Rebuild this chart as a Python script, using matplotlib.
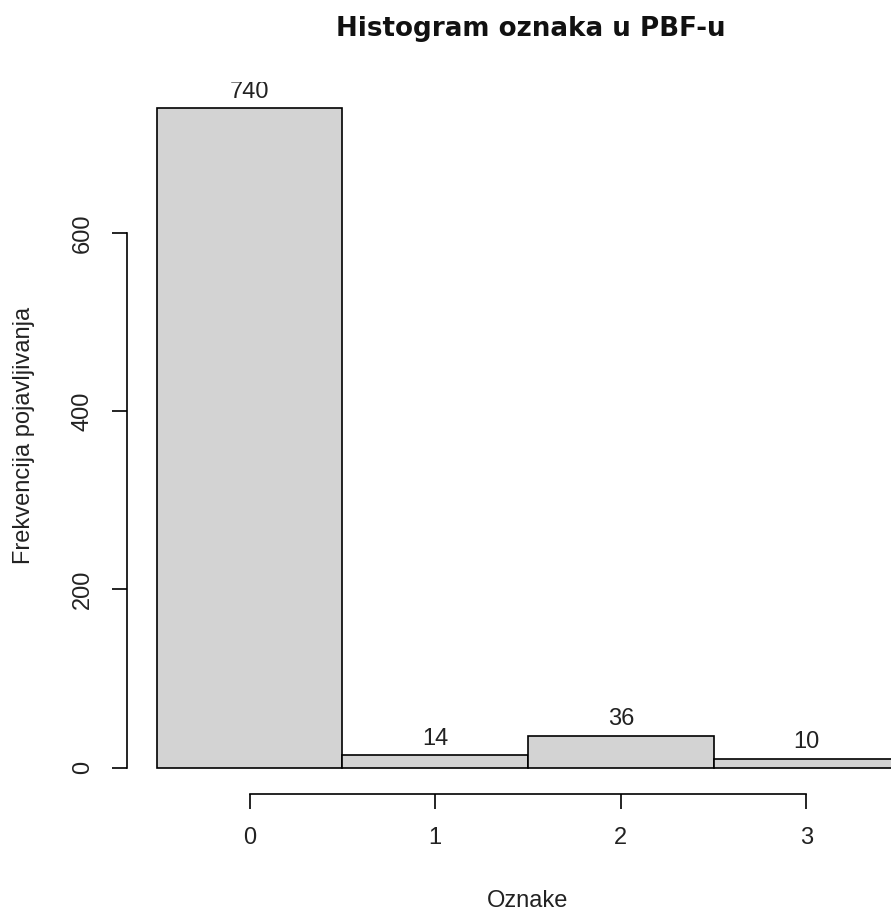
import numpy as np
import matplotlib.pyplot as plt
from matplotlib import transforms

# data
categories = [0, 1, 2, 3]
counts = [740, 14, 36, 10]
y_ticks = [0, 200, 400, 600]
title = "Histogram oznaka u PBF-u"
x_label = "Oznake"
y_label = "Frekvencija pojavljivanja"

plt.rcParams['font.family'] = ['Liberation Sans', 'DejaVu Sans']

fig = plt.figure(figsize=(8.91, 9.11), dpi=100)
W, H = 891, 911
# plot region in pixels (R style, extends past the right edge)
ax = fig.add_axes([127 / W, (H - 794) / H, (929 - 127) / W, (794 - 82) / H])

x = np.array(categories)
ax.bar(x, counts, width=1.0, color='#d3d3d3', edgecolor='black', linewidth=1.2)

# count labels above bars, clipped to the plot region like R
lab_tr = transforms.offset_copy(ax.transData, fig=fig, y=7.6, units='points')
for xi, c in zip(x, counts):
    ax.text(xi, c, str(c), transform=lab_tr, ha='center', va='baseline',
            fontsize=17, color='#222222', clip_on=True)

# 4% padding like R
lo, hi = -0.5, len(categories) - 0.5
pad = 0.04 * (hi - lo)
ax.set_xlim(lo - pad, hi + pad)
ax.set_ylim(-0.04 * max(counts), 1.04 * max(counts))

for s in ['top', 'right']:
    ax.spines[s].set_visible(False)
ax.spines['left'].set_bounds(0, 600)
ax.spines['bottom'].set_bounds(0, 3)
for s in ['left', 'bottom']:
    ax.spines[s].set_linewidth(1.2)

ax.set_xticks(categories)
ax.set_yticks(y_ticks)
ax.set_yticklabels([str(t) for t in y_ticks], rotation=90, va='center')
ax.tick_params(axis='both', direction='out', length=11, width=1.2,
               labelsize=17, labelcolor='#222222', pad=13)

ax.set_xlabel(x_label, fontsize=17, color='#222222', labelpad=29)
ax.set_ylabel(y_label, fontsize=17, color='#222222')
ax.yaxis.set_label_coords(-0.115, 0.503)
fig.text(531 / W, 1 - 29 / H, title, fontsize=18.8, fontweight='bold',
         family='DejaVu Sans', ha='center', va='center', color='#111111')

fig.savefig('out.png', dpi=100)
